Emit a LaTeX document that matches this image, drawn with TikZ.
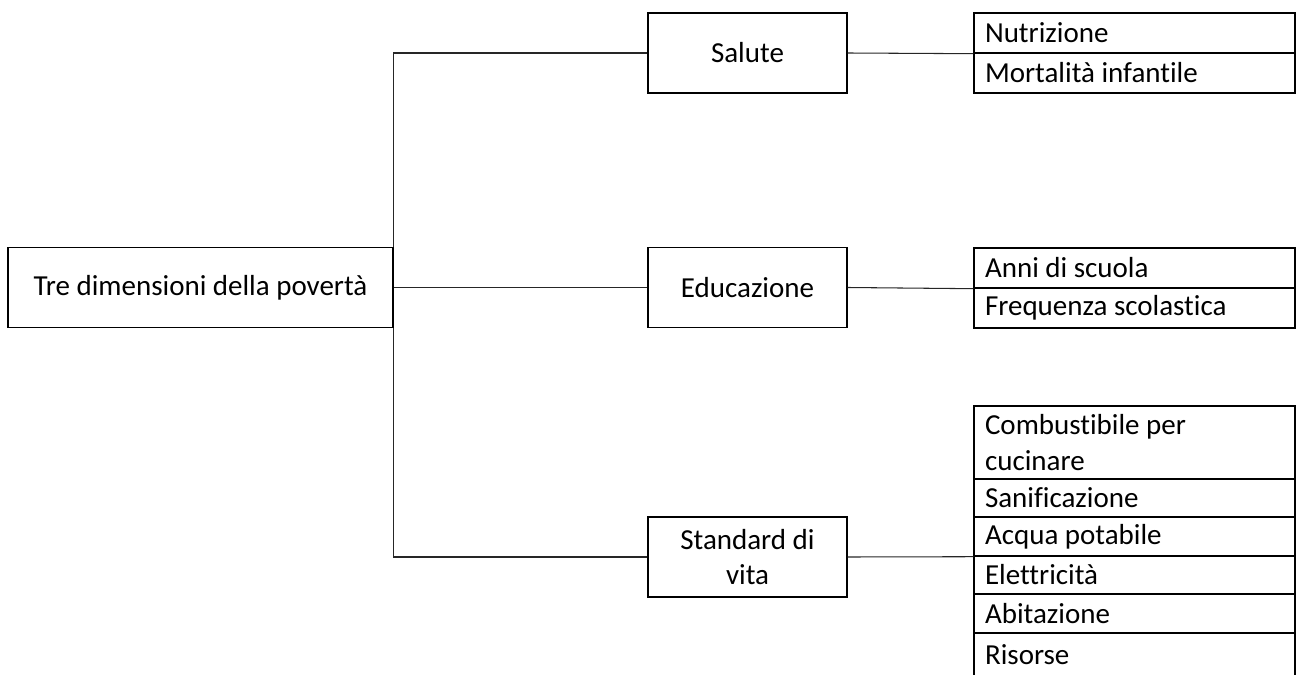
\documentclass[tikz,border=0pt]{standalone}
\usepackage{fontspec}
\setmainfont{Carlito}[Ligatures=NoCommon]
\tikzset{
  box/.style={shape=rectangle,draw=black,line width=0.8pt,minimum width=3.98cm,minimum height=1.6cm,align=center,inner sep=0pt},
  item/.style={shape=rectangle,draw=black,line width=0.8pt,minimum width=6.42cm,text width=5.98cm,align=flush left,inner sep=0pt},
  link/.style={draw=black!85,line width=0.6pt}
}
\begin{document}
\begin{tikzpicture}[x=0.02cm,y=-0.02cm,font=\fontsize{16.5}{20}\selectfont]
            \useasboundingbox (0,0) rectangle (1297,675);
            \clip (0,0) rectangle (1297,675);

            \node[box,minimum width=7.7cm] (root) at (200.5,287.5) {Tre dimensioni della povertà};
            \node[box] (salute) at (747.5,53) {Salute};
            \node[box] (educ) at (747.5,287.5) {Educazione};
            \node[box] (std) at (747.5,557) {Standard di\\vita};

            % salute
            \node[item,minimum height=0.8cm] (nutr) at (1134.5,33) {Nutrizione};
            \node[item,minimum height=0.8cm] (mort) at (1134.5,73) {Mortalità infantile};
            % educazione
            \node[item,minimum height=0.8cm] (anni) at (1134.5,268) {Anni di scuola};
            \node[item,minimum height=0.8cm] (freq) at (1134.5,308) {Frequenza scolastica};
            % standard di vita
            \node[item,minimum height=1.46cm] (comb) at (1134.5,442.5) {Combustibile per\\cucinare};
            \node[item,minimum height=0.76cm] (sani) at (1134.5,498) {Sanificazione};
            \node[item,minimum height=0.78cm] (acqua) at (1134.5,536.5) {Acqua potabile};
            \node[item,minimum height=0.76cm] (elet) at (1134.5,575) {Elettricità};
            \node[item,minimum height=0.78cm] (abit) at (1134.5,613.5) {Abitazione};
            \node[item,minimum height=0.86cm] (ris) at (1134.5,654.5) {Risorse};

            \path[link] (salute.west) -| (root.north east);
            \path[link] (std.west) -| (root.south east);
            \path[link] (root.east) -- (educ.west);
            \path[link] (salute.east) -- (nutr.south west);
            \path[link] (educ.east) -- (anni.south west);
            \path[link] (std.east) -- (acqua.south west);
        \end{tikzpicture}
\end{document}
